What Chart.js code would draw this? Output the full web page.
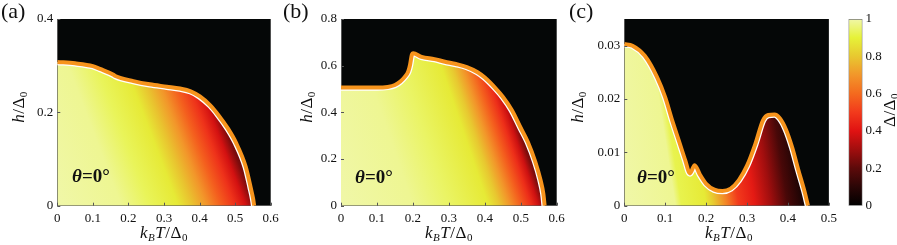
<!DOCTYPE html>
<html>
<head>
<meta charset="utf-8">
<script src="https://cdn.jsdelivr.net/npm/chart.js@4.4.1/dist/chart.umd.min.js"></script>
<style>
  body { margin: 0; background: #fff; font-family: "Liberation Serif", "Times New Roman", Times, serif; color: #111; }
  #wrap { position: relative; width: 897px; height: 245px; overflow: hidden; }
  canvas { position: absolute; top: 0; }
  .tag { position: absolute; top: 0; font-size: 22px; line-height: 22px; }
  .theta { position: absolute; font-size: 19px; font-weight: bold; line-height: 19px; }
  .xt { position: absolute; top: 224px; width: 120px; text-align: center; font-size: 17px; line-height: 18px; letter-spacing: 0.5px; }
  .yt { position: absolute; width: 80px; text-align: center; font-size: 17px; line-height: 18px; transform: rotate(-90deg); letter-spacing: 0.5px; }
  sub { font-size: 11px; vertical-align: -3px; line-height: 0; }
</style>
</head>
<body>
<div id="wrap">
  <canvas id="pa" width="285" height="245" style="left:0"></canvas>
  <canvas id="pb" width="285" height="245" style="left:290px"></canvas>
  <canvas id="pc" width="262" height="245" style="left:580px"></canvas>
  <canvas id="cb" width="55" height="245" style="left:842px"></canvas>

  <div class="tag" style="left:1px">(a)</div>
  <div class="tag" style="left:283px">(b)</div>
  <div class="tag" style="left:569px">(c)</div>

  <div class="theta" style="left:72px;top:166px"><i>θ</i>=0°</div>
  <div class="theta" style="left:355px;top:167px"><i>θ</i>=0°</div>
  <div class="theta" style="left:637px;top:167px"><i>θ</i>=0°</div>

  <div class="xt" style="left:104px"><i>k</i><sub><i>B</i></sub><i>T</i>/Δ<sub>0</sub></div>
  <div class="xt" style="left:389px"><i>k</i><sub><i>B</i></sub><i>T</i>/Δ<sub>0</sub></div>
  <div class="xt" style="left:669px"><i>k</i><sub><i>B</i></sub><i>T</i>/Δ<sub>0</sub></div>

  <div class="yt" style="left:-21px;top:98px"><i>h</i>/Δ<sub>0</sub></div>
  <div class="yt" style="left:267px;top:98px"><i>h</i>/Δ<sub>0</sub></div>
  <div class="yt" style="left:538px;top:98px"><i>h</i>/Δ<sub>0</sub></div>
  <div class="yt" style="left:850px;top:101px">Δ/Δ<sub>0</sub></div>
</div>

<script>
// colour map (Δ/Δ0 -> colour), as on the colour bar
var cmapLevels = [0, 0.1, 0.2, 0.3, 0.4, 0.5, 0.6, 0.7, 0.8, 0.9, 1];
var cmapColors = ['#000000', '#2a0606', '#5c0a0a', '#a00e0e', '#e01212', '#f23a1c',
                  '#f46a1e', '#f2962a', '#e8c830', '#e6f238', '#f0f7a8'];
var cbTicks = [0, 0.2, 0.4, 0.6, 0.8, 1];

// panel (a): phase boundary and gap profile along h = 0
var aT = [0, 0.05, 0.1, 0.12, 0.158, 0.163, 0.214, 0.26, 0.308, 0.345, 0.375, 0.401, 0.43, 0.452, 0.48, 0.503, 0.53, 0.544, 0.5505, 0.5535];
var aH = [0.308, 0.305, 0.299, 0.293, 0.2805, 0.278, 0.267, 0.26, 0.255, 0.251, 0.245, 0.234, 0.215, 0.195, 0.165, 0.134, 0.083, 0.038, 0.015, 0];
var aGapT = [0, 0.18, 0.26, 0.34, 0.38, 0.42, 0.46, 0.5, 0.53, 0.555, 0.6];
var aGapV = [1.0, 0.98, 0.93, 0.88, 0.79, 0.7, 0.58, 0.48, 0.38, 0.25, 0.1];
var aXTicks = [0, 0.1, 0.2, 0.3, 0.4, 0.5, 0.6];
var aYTicks = [0, 0.2, 0.4];

// panel (b)
var bT = [0, 0.05, 0.1, 0.13, 0.15, 0.165, 0.178, 0.187, 0.192, 0.197, 0.201, 0.224, 0.26, 0.289, 0.32, 0.35, 0.38, 0.4, 0.43, 0.45, 0.475, 0.5, 0.52, 0.54, 0.555, 0.563, 0.5665];
var bH = [0.507, 0.507, 0.506, 0.509, 0.517, 0.532, 0.553, 0.575, 0.603, 0.646, 0.653, 0.638, 0.628, 0.617, 0.607, 0.594, 0.572, 0.549, 0.503, 0.467, 0.41, 0.333, 0.272, 0.19, 0.11, 0.05, 0];
var bGapT = [0, 0.2, 0.3, 0.41, 0.44, 0.47, 0.5, 0.53, 0.55, 0.567, 0.62];
var bGapV = [1.0, 0.98, 0.94, 0.88, 0.8, 0.7, 0.58, 0.47, 0.37, 0.25, 0.1];
var bXTicks = [0, 0.1, 0.2, 0.3, 0.4, 0.5, 0.6];
var bYTicks = [0, 0.2, 0.4, 0.6, 0.8];

// panel (c)
var cT = [0, 0.02, 0.05, 0.08, 0.1, 0.117, 0.135, 0.149, 0.1605, 0.172, 0.185, 0.2, 0.22, 0.24, 0.26, 0.28, 0.3, 0.32, 0.339, 0.352, 0.367, 0.38, 0.395, 0.41, 0.425, 0.44, 0.449];
var cH = [0.0303, 0.030, 0.0281, 0.0241, 0.0203, 0.016, 0.0118, 0.0085, 0.00605, 0.0076, 0.0058, 0.0041, 0.0030, 0.00274, 0.0032, 0.0048, 0.0075, 0.0115, 0.016, 0.0170, 0.0171, 0.0164, 0.0143, 0.011, 0.0068, 0.0028, 0];
var cGapT = [0, 0.125, 0.14, 0.2, 0.22, 0.25, 0.28, 0.32, 0.36, 0.4, 0.44, 0.46];
var cGapV = [1.0, 0.98, 0.92, 0.88, 0.8, 0.66, 0.5, 0.42, 0.3, 0.16, 0.06, 0.02];
var cXTicks = [0, 0.1, 0.2, 0.3, 0.4, 0.5];
var cYTicks = [0, 0.01, 0.02, 0.03];
var cYMax = 0.035;

Chart.defaults.font.family = '"Liberation Serif", "Times New Roman", Times, serif';
Chart.defaults.font.size = 13;
Chart.defaults.color = '#111';

function hexRgb(h) {
  return [parseInt(h.substr(1, 2), 16), parseInt(h.substr(3, 2), 16), parseInt(h.substr(5, 2), 16)];
}

function colormap(v) {
  v = Math.max(0, Math.min(1, v));
  for (var i = 1; i < cmapLevels.length; i++) {
    if (v <= cmapLevels[i]) {
      var f = (v - cmapLevels[i - 1]) / (cmapLevels[i] - cmapLevels[i - 1]);
      var c0 = hexRgb(cmapColors[i - 1]), c1 = hexRgb(cmapColors[i]);
      return 'rgb(' + c0.map(function (c, k) { return Math.round(c + (c1[k] - c) * f); }).join(',') + ')';
    }
  }
  return cmapColors[cmapColors.length - 1];
}

// tilted linear gradient: contours lean left by `tilt` (T per unit h)
function fieldGradient(chart, gapT, gapV, tilt) {
  if (!chart.chartArea) return null;
  var xs = chart.scales.x, ys = chart.scales.y;
  var x0 = xs.getPixelForValue(0), y0 = ys.getPixelForValue(0);
  var sx = xs.getPixelForValue(1) - x0, sy = y0 - ys.getPixelForValue(1);
  var tMax = gapT[gapT.length - 1];
  var nx = sy, ny = -tilt * sx;
  var len = Math.sqrt(nx * nx + ny * ny);
  nx /= len; ny /= len;
  var L = tMax * sx * nx;
  var g = chart.ctx.createLinearGradient(x0, y0, x0 + nx * L, y0 + ny * L);
  gapT.forEach(function (t, i) { g.addColorStop(t / tMax, colormap(gapV[i])); });
  return g;
}

var blackArea = {
  id: 'blackArea',
  beforeDraw: function (chart) {
    var a = chart.chartArea, c = chart.ctx;
    if (!a) return;
    c.save();
    c.fillStyle = '#050707';
    c.fillRect(a.left, a.top, a.right - a.left, a.bottom - a.top);
    c.restore();
  },
  // small inward tick marks, matlab style
  afterDraw: function (chart) {
    var a = chart.chartArea, c = chart.ctx;
    c.save();
    c.strokeStyle = '#555';
    c.lineWidth = 1;
    c.beginPath();
    chart.scales.x.ticks.forEach(function (t) {
      var px = Math.round(chart.scales.x.getPixelForValue(t.value)) + 0.5;
      c.moveTo(px, a.bottom); c.lineTo(px, a.bottom - 3);
    });
    chart.scales.y.ticks.forEach(function (t) {
      var py = Math.round(chart.scales.y.getPixelForValue(t.value)) + 0.5;
      c.moveTo(a.left, py); c.lineTo(a.left + 3, py);
    });
    c.stroke();
    c.restore();
  }
};

// thin white edge on the inner side of the boundary (clipped to the filled region)
var innerEdge = {
  id: 'innerEdge',
  afterDatasetDraw: function (chart, args) {
    if (args.index !== 1) return;
    var line = args.meta.dataset, c = chart.ctx;
    var pts = args.meta.data;
    if (!line || !pts.length) return;
    line.updateControlPoints(chart.chartArea, 'x');
    var yb = chart.scales.y.getPixelForValue(0);
    c.save();
    c.beginPath();
    line.path(c);
    c.lineTo(pts[pts.length - 1].x, yb + 1);
    c.lineTo(pts[0].x, yb + 1);
    c.closePath();
    c.clip();
    c.beginPath();
    line.path(c);
    c.strokeStyle = '#ffffff';
    c.lineWidth = 6.5;
    c.lineJoin = 'round';
    c.stroke();
    c.restore();
  }
};

function fixedTicks(list) {
  return function (scale) { scale.ticks = list.map(function (v) { return { value: v }; }); };
}

function makePanel(id, tArr, hArr, gapT, gapV, tilt, xTicks, yTicks, yMax, yAxisW, padRight) {
  var pts = tArr.map(function (t, i) { return { x: t, y: hArr[i] }; });
  return new Chart(document.getElementById(id), {
    type: 'line',
    data: {
      datasets: [
        { data: pts, borderColor: '#f7941d', borderWidth: 4, pointRadius: 0, fill: false,
          cubicInterpolationMode: 'monotone' },
        { data: pts, borderColor: 'rgba(0,0,0,0)', borderWidth: 0, pointRadius: 0, fill: 'origin',
          cubicInterpolationMode: 'monotone',
          backgroundColor: function (ctx) { return fieldGradient(ctx.chart, gapT, gapV, tilt); } }
      ]
    },
    options: {
      responsive: false,
      animation: false,
      devicePixelRatio: 1,
      layout: { padding: { top: 19, right: padRight, left: 0, bottom: 0 } },
      plugins: { legend: { display: false }, tooltip: { enabled: false } },
      scales: {
        x: {
          type: 'linear', min: xTicks[0], max: xTicks[xTicks.length - 1],
          grid: { display: false, drawTicks: false },
          border: { color: '#555', width: 1 },
          afterBuildTicks: fixedTicks(xTicks),
          afterFit: function (s) { s.height = 39.3; },
          ticks: { padding: 5, maxRotation: 0, callback: function (v) { return String(v); } }
        },
        y: {
          type: 'linear', min: 0, max: yMax,
          grid: { display: false, drawTicks: false },
          border: { color: '#555', width: 1 },
          afterBuildTicks: fixedTicks(yTicks),
          afterFit: function (s) { s.width = yAxisW; },
          ticks: { padding: 4, callback: function (v) { return String(v); } }
        }
      }
    },
    plugins: [blackArea, innerEdge]
  });
}

makePanel('pa', aT, aH, aGapT, aGapV, 0.5, aXTicks, aYTicks, 0.4, 57.3, 14.3);
makePanel('pb', bT, bH, bGapT, bGapV, 0.22, bXTicks, bYTicks, 0.8, 51, 18.3);
makePanel('pc', cT, cH, cGapT, cGapV, 2, cXTicks, cYTicks, cYMax, 44.3, 7.7);

// colour bar
new Chart(document.getElementById('cb'), {
  type: 'bar',
  data: {
    labels: ['Δ'],
    datasets: [{
      data: [[0, 1]],
      barPercentage: 1, categoryPercentage: 1,
      borderColor: '#777', borderWidth: 1, borderSkipped: false,
      backgroundColor: function (ctx) {
        var chart = ctx.chart;
        if (!chart.chartArea) return null;
        var ys = chart.scales.y;
        var g = chart.ctx.createLinearGradient(0, ys.getPixelForValue(0), 0, ys.getPixelForValue(1));
        cmapLevels.forEach(function (l, i) { g.addColorStop(l, cmapColors[i]); });
        return g;
      }
    }]
  },
  options: {
    responsive: false,
    animation: false,
    devicePixelRatio: 1,
    layout: { padding: { top: 19, left: 6.5, right: 0, bottom: 39.3 } },
    plugins: { legend: { display: false }, tooltip: { enabled: false } },
    scales: {
      x: { display: false },
      y: {
        position: 'right', min: 0, max: 1,
        grid: { display: false, drawTicks: false },
        border: { display: false },
        afterBuildTicks: fixedTicks(cbTicks),
        afterFit: function (s) { s.width = 34.5; },
        ticks: { padding: 3, callback: function (v) { return String(v); } }
      }
    }
  }
});
</script>
</body>
</html>
